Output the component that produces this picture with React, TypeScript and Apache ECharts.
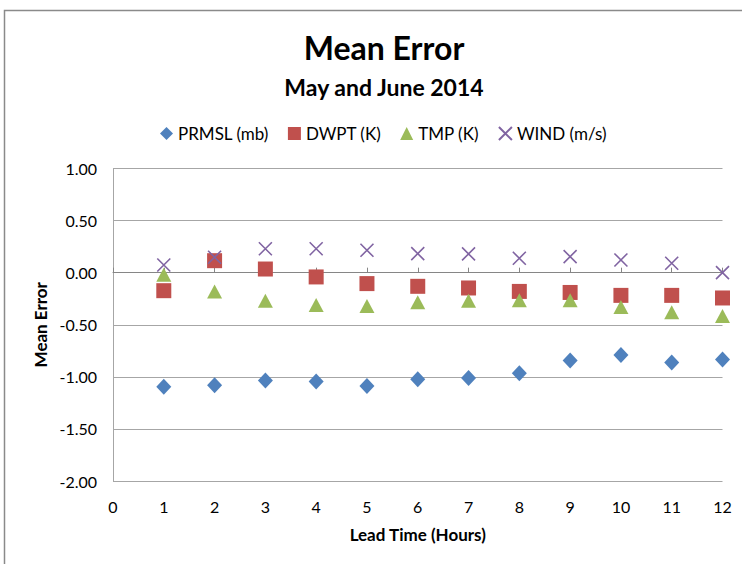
import React, { useEffect, useRef } from "react";
import * as echarts from "echarts";

const leadHours = [1, 2, 3, 4, 5, 6, 7, 8, 9, 10, 11, 12];
const prmsl = [-1.095, -1.08, -1.035, -1.045, -1.087, -1.022, -1.01, -0.965, -0.843, -0.79, -0.862, -0.833];
const dwpt = [-0.173, 0.115, 0.035, -0.041, -0.105, -0.131, -0.147, -0.18, -0.19, -0.218, -0.218, -0.243];
const tmp = [-0.02, -0.18, -0.27, -0.31, -0.32, -0.285, -0.27, -0.265, -0.265, -0.33, -0.38, -0.416];
const wind = [0.074, 0.148, 0.23, 0.23, 0.215, 0.183, 0.18, 0.138, 0.154, 0.122, 0.09, 0.0];
const seriesNames = ["PRMSL (mb)", "DWPT (K)", "TMP (K)", "WIND (m/s)"];
const yTicks = [-2, -1.5, -1, -0.5, 0, 0.5, 1];

const FONT = "Lato, 'Open Sans', sans-serif";

export default function App() {
  const ref = useRef<HTMLDivElement>(null);
  useEffect(() => {
    if (!ref.current) return;
    const chart = echarts.init(ref.current, null, { renderer: "svg" });
    const pts = (arr: number[]) => leadHours.map((h, i) => [h, arr[i]]);
    chart.setOption({
      animation: false,
      backgroundColor: "#fff",
      textStyle: { fontFamily: FONT },
      title: [
        {
          text: "Mean Error",
          left: 379,
          top: 26,
          textAlign: "center",
          textStyle: { fontFamily: FONT, fontSize: 32, fontWeight: "bold", color: "#000" },
        },
        {
          text: "May and June 2014",
          left: 379,
          top: 70,
          textAlign: "center",
          textStyle: { fontFamily: FONT, fontSize: 23, fontWeight: "bold", color: "#000" },
        },
      ],
      legend: {
        top: 120,
        left: 155,
        itemGap: 19,
        itemWidth: 13,
        itemHeight: 13,
        textStyle: { fontFamily: FONT, fontSize: 17, color: "#000" },
        data: seriesNames,
      },
      graphic: [
        {
          type: "rect",
          shape: { x: 4.5, y: 10.5, width: 800, height: 700 },
          style: { fill: "none", stroke: "#8a8a8a", lineWidth: 1.5 },
          silent: true,
          z: -1,
        },
      ],
      grid: { left: 113, right: 19.5, top: 168.5, bottom: 83 },
      xAxis: [
        {
          type: "value",
          min: 0,
          max: 12,
          interval: 1,
          axisLine: { show: true, onZero: true, lineStyle: { color: "#868686", width: 1 } },
          axisTick: { show: true, inside: true, length: 5, lineStyle: { color: "#868686" } },
          axisLabel: { show: false },
          splitLine: { show: false },
        },
        {
          type: "value",
          min: 0,
          max: 12,
          interval: 1,
          position: "bottom",
          axisLine: { show: false, onZero: false },
          axisTick: { show: false },
          axisLabel: { show: true, margin: 17, fontFamily: FONT, fontSize: 16, color: "#000" },
          splitLine: { show: false },
          name: "Lead Time (Hours)",
          nameLocation: "middle",
          nameGap: 45,
          nameTextStyle: { fontFamily: FONT, fontSize: 17, fontWeight: "bold", color: "#000" },
        },
      ],
      yAxis: {
        type: "value",
        min: yTicks[0],
        max: yTicks[yTicks.length - 1],
        interval: 0.5,
        axisLine: { show: true, onZero: false, lineStyle: { color: "#a6a6a6", width: 1 } },
        axisTick: { show: false },
        axisLabel: {
          margin: 16,
          fontFamily: FONT,
          fontSize: 16,
          color: "#000",
          formatter: (v: number) => v.toFixed(2),
        },
        splitLine: { show: true, lineStyle: { color: "#a6a6a6", width: 1 } },
        name: "Mean Error",
        nameLocation: "middle",
        nameGap: 64,
        nameTextStyle: { fontFamily: FONT, fontSize: 17, fontWeight: "bold", color: "#000" },
      },
      series: [
        {
          name: seriesNames[0],
          type: "scatter",
          xAxisIndex: 1,
          symbol: "diamond",
          symbolSize: [15, 16],
          itemStyle: { color: "#4F81BD", opacity: 1 },
          data: pts(prmsl),
        },
        {
          name: seriesNames[1],
          type: "scatter",
          xAxisIndex: 1,
          symbol: "rect",
          symbolSize: 15,
          itemStyle: { color: "#C0504D", opacity: 1 },
          data: pts(dwpt),
        },
        {
          name: seriesNames[2],
          type: "scatter",
          xAxisIndex: 1,
          symbol: "triangle",
          symbolSize: [15, 14],
          itemStyle: { color: "#9BBB59", opacity: 1 },
          data: pts(tmp),
        },
        {
          name: seriesNames[3],
          type: "scatter",
          xAxisIndex: 1,
          symbol: "path://M0,0L10,10M10,0L0,10",
          symbolSize: 13,
          itemStyle: { color: "transparent", borderColor: "#8064A2", borderWidth: 1.6, opacity: 1 },
          data: pts(wind),
        },
      ],
    });
    return () => chart.dispose();
  }, []);
  return (
    <div
      ref={ref}
      style={{ position: "absolute", left: 0, top: 0, width: 742, height: 564 }}
    />
  );
}
